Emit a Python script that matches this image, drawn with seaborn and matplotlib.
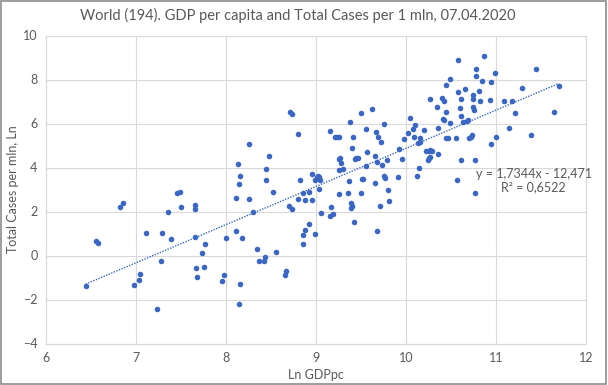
"""World GDP per capita vs total COVID cases per 1 mln (both log), 07.04.2020."""

import matplotlib
matplotlib.use("Agg")
import matplotlib.pyplot as plt
import numpy as np
import pandas as pd
import seaborn as sns
from matplotlib.patches import Rectangle

# values (Ln GDPpc, Ln total cases per mln)
ln_gdp_low = [6.44, 6.56, 6.58, 6.82, 6.86, 6.98, 7.03, 7.04, 7.11, 7.23, 7.28, 7.29, 7.36, 7.39, 7.46, 7.49, 7.50,
              7.65, 7.65, 7.66, 7.67, 7.68, 7.73, 7.75, 7.77, 7.95, 7.98, 8.00, 8.11, 8.11, 8.13, 8.14, 8.16, 8.15, 8.14]
ln_cases_low = [-1.37, 0.66, 0.58, 2.22, 2.39, -1.34, -1.13, -0.83, 1.04, -2.42, -0.25, 1.04, 1.99, 0.75, 2.83, 2.89, 2.19,
                2.30, 2.11, 0.86, -0.58, -0.96, 0.13, -0.51, 0.52, -1.14, -0.90, 0.78, 2.63, 1.11, 4.17, 3.25, 3.61, -1.30, -2.20]

ln_gdp_mid = [8.48, 8.44, 8.44, 8.52, 8.25, 8.30, 8.18, 8.34, 8.37, 8.42, 8.43, 8.56, 8.67, 8.66, 8.82, 8.96, 8.99, 9.01,
              9.03, 9.04, 9.02, 9.03, 8.85, 8.92, 8.80, 8.88, 8.96, 8.70, 8.73, 9.05, 9.16, 9.19, 9.17, 8.92, 8.88, 8.85,
              8.85, 8.99, 9.26, 9.26, 9.26, 8.71, 8.73, 8.80, 8.26]
ln_cases_mid = [4.54, 3.95, 3.45, 2.89, 2.55, 1.96, 0.78, 0.28, -0.25, -0.25, -0.08, 0.17, -0.69, -0.90, 3.45, 3.70, 3.45, 3.55,
                3.55, 3.42, 3.62, 3.02, 2.83, 2.87, 2.55, 2.52, 2.52, 2.26, 2.13, 1.92, 1.81, 1.87, 2.19, 1.43, 1.16, 0.92,
                0.54, 0.98, 4.39, 3.89, 2.78, 6.54, 6.45, 5.52, 5.05]

ln_gdp_upper = [9.50, 9.62, 9.38, 9.16, 9.21, 9.23, 9.25, 9.41, 9.56, 9.67, 9.69, 9.72, 9.76, 9.40, 9.57, 9.65, 9.27, 9.28,
                9.43, 9.45, 9.47, 9.68, 9.73, 9.79, 9.56, 9.30, 9.37, 9.51, 9.52, 9.65, 9.76, 9.77, 9.91, 9.80, 9.36, 9.50,
                9.81, 9.71, 9.39, 9.40, 9.39, 9.42, 9.68, 9.96, 9.92, 9.98, 10.02, 10.04, 10.08, 10.10, 10.09, 10.13, 10.15,
                10.16, 10.20, 10.22, 10.25, 10.27, 10.29, 10.24, 10.26, 10.27, 10.36, 10.14, 10.12, 10.27, 10.34, 10.36]
ln_cases_upper = [6.48, 6.64, 6.05, 5.66, 5.39, 5.39, 5.39, 5.39, 5.77, 5.60, 5.39, 5.16, 5.96, 4.90, 4.72, 4.54, 4.42, 4.22,
                  4.37, 4.42, 4.45, 4.25, 4.10, 4.34, 4.07, 3.92, 3.40, 3.49, 3.49, 3.28, 3.61, 3.51, 3.58, 2.98, 2.83, 2.86,
                  2.46, 2.26, 2.37, 2.26, 2.14, 1.54, 1.13, 4.40, 4.83, 5.30, 5.57, 6.24, 5.75, 5.93, 5.39, 5.10, 5.16,
                  5.33, 5.69, 4.76, 4.76, 4.78, 4.76, 4.34, 4.43, 4.48, 4.63, 3.96, 3.61, 7.10, 6.77, 5.78]

ln_gdp_high = [10.58, 10.87, 10.78, 10.78, 10.99, 10.84, 10.95, 10.49, 10.45, 10.58, 10.66, 10.81, 10.74, 10.74, 10.61,
               10.82, 10.93, 11.09, 11.18, 10.40, 10.42, 10.45, 10.60, 10.74, 10.76, 10.61, 10.41, 10.42, 10.49, 10.69,
               10.68, 10.63, 10.44, 10.47, 10.56, 10.70, 10.72, 10.73, 11.00, 10.95, 11.14, 11.21, 11.29, 11.44, 11.70,
               11.64, 11.39, 10.61, 10.77, 10.57, 10.77]
ln_cases_high = [8.89, 9.07, 8.46, 8.16, 8.31, 7.92, 7.89, 8.02, 7.75, 7.45, 7.57, 7.46, 7.28, 7.13, 7.10,
                 7.04, 7.07, 7.04, 7.04, 7.15, 7.01, 6.54, 6.70, 6.77, 6.61, 6.35, 6.22, 6.16, 6.01, 6.16,
                 6.13, 6.07, 5.35, 5.33, 5.35, 5.33, 5.40, 5.48, 5.40, 5.07, 5.78, 6.48, 7.63, 8.46, 7.69,
                 6.51, 5.49, 4.33, 4.33, 3.43, 2.86]

# linear trend shown in the chart
trend_slope = 1.7344
trend_intercept = -12.471
trend_r2 = 0.6522

TITLE = "World (194). GDP per capita and Total Cases per 1 mln, 07.04.2020"
BLUE = "#3a66c4"
GREY_TEXT = "#595959"
GRID = "#d9d9d9"


def main():
    df = pd.DataFrame({
        "gdp": ln_gdp_low + ln_gdp_mid + ln_gdp_upper + ln_gdp_high,
        "cases": ln_cases_low + ln_cases_mid + ln_cases_upper + ln_cases_high,
    })

    sns.set_theme(style="whitegrid")
    plt.rcParams["font.family"] = ["Lato", "DejaVu Sans"]

    fig = plt.figure(figsize=(6.08, 3.85), dpi=100)
    ax = fig.add_axes([46 / 608, 1 - 343.5 / 385, 540 / 608, 308 / 385])

    sns.scatterplot(data=df, x="gdp", y="cases", ax=ax, color=BLUE, s=16, linewidth=0, zorder=3)

    tx = np.array([df["gdp"].min(), df["gdp"].max()])
    ax.plot(tx, trend_slope * tx + trend_intercept, color=BLUE, linestyle=(0, (1, 1)), linewidth=1.0, zorder=2)

    ax.text(11.42, 3.4, f"y = 1,7344x - 12,471\nR² = {trend_r2:.4f}".replace(".", ","), ha="center", va="center",
            fontsize=9, color=GREY_TEXT, linespacing=1.15, zorder=4)

    ax.set_xlim(6, 12); ax.set_ylim(-4, 10)
    ax.set_xticks(range(6, 13)); ax.set_yticks(range(-4, 11, 2))
    ax.grid(True, color=GRID, linewidth=0.8)
    for spine in ax.spines.values():
        spine.set_color(GRID); spine.set_linewidth(0.8)
    ax.tick_params(axis="both", labelsize=9, colors=GREY_TEXT, length=0, pad=6)
    ax.set_xlabel("Ln GDPpc", fontsize=9, color=GREY_TEXT, labelpad=4)
    ax.set_ylabel("Total Cases per mln, Ln", fontsize=9, color=GREY_TEXT, labelpad=3)

    fig.text(298 / 608, 1 - 15 / 385, TITLE, ha="center", va="center", fontsize=10.5, color=GREY_TEXT)
    fig.patches.append(Rectangle((0.002, 0.003), 0.995, 0.994, transform=fig.transFigure, fill=False,
                                 edgecolor="#8c8c8c", linewidth=1.2))

    fig.savefig("out.png", dpi=100)
    plt.close(fig)


if __name__ == "__main__":
    main()
